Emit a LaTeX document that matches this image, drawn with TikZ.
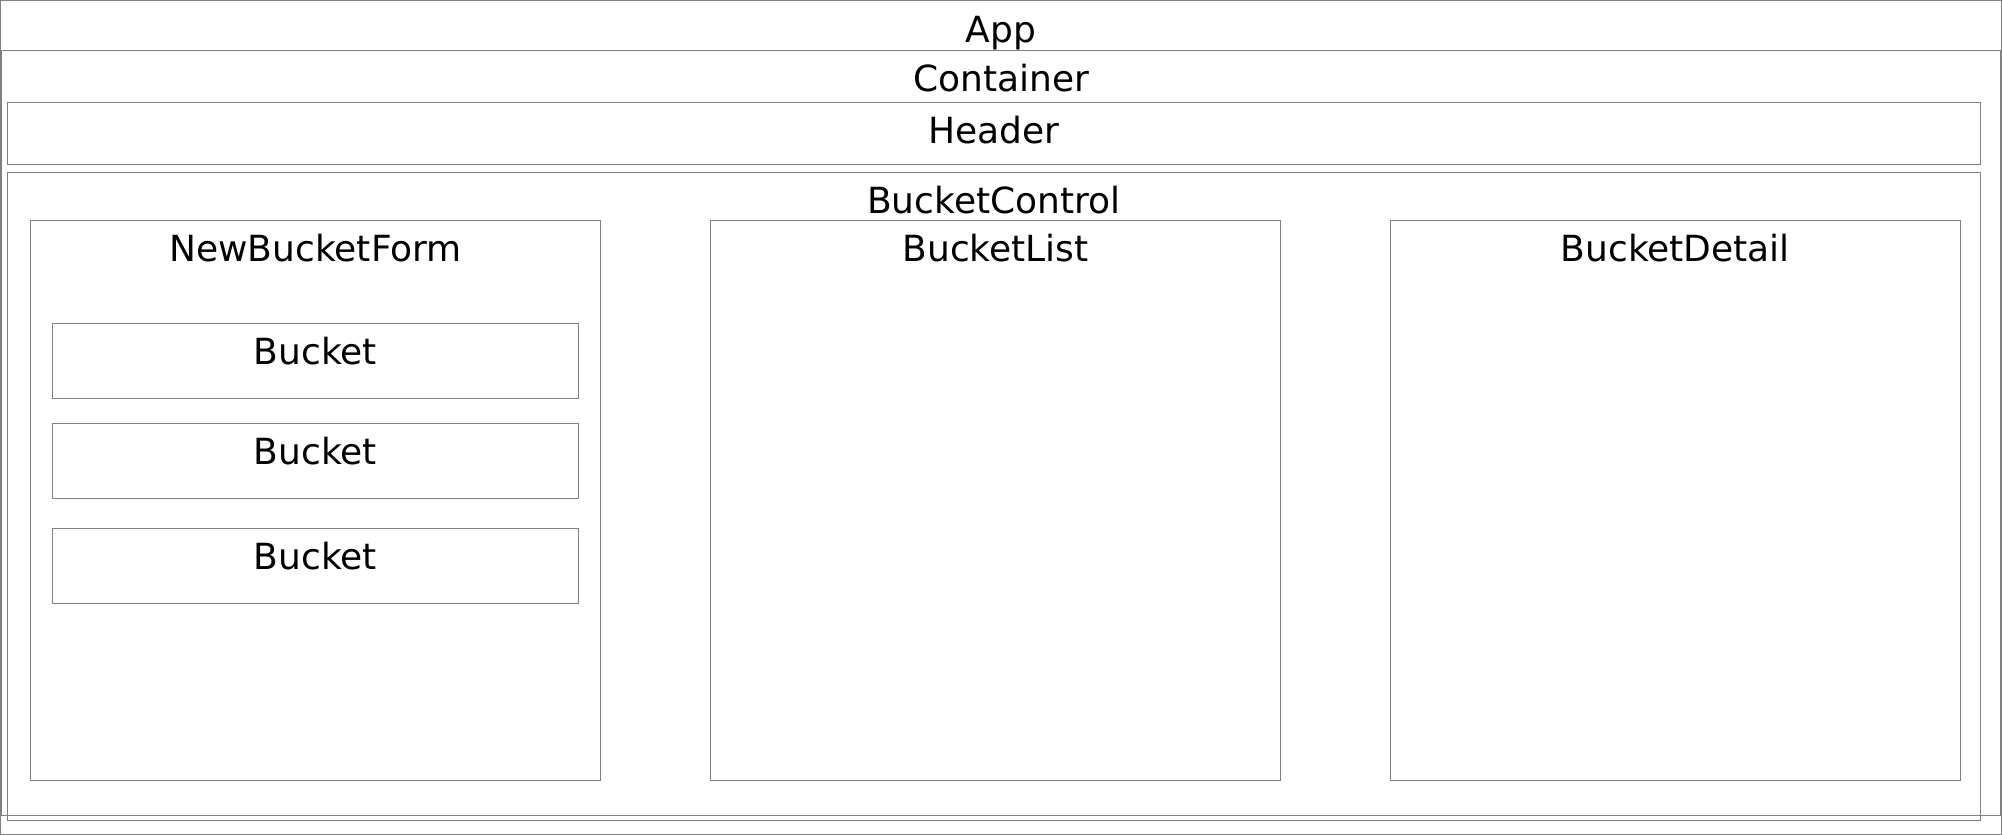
\documentclass[tikz,border=0pt]{standalone}
\usepackage{fontspec}
\setmainfont{DejaVu Sans}
\usetikzlibrary{fit,calc}
\definecolor{edge}{HTML}{808080}
\tikzset{
  box/.style={draw=edge, line width=0.5pt, inner sep=0pt, fill=none},
  lbl/.style={anchor=base, inner sep=0pt, font=\fontsize{18pt}{21pt}\selectfont, text=black}
}
\begin{document}
\begin{tikzpicture}[x=0.5pt,y=-0.5pt]
\useasboundingbox (0,0) rectangle (2002,835);
\fill[white] (0,0) rectangle (2002,835);
% App
\node[box, fit={(0.5,0.5)(2001.5,834.5)}] (app) {};
\node[lbl] (appT) at ($(app.north)+(0,42)$) {App};
% Container
\node[box, fit={(1.5,50)(2000.5,815)}] (container) {};
\node[lbl] (containerT) at ($(container.north)+(0,41.7)$) {Container};
% Header
\node[box, fit={(7.3,102.7)(1980.3,164)}] (header) {};
\node[lbl] (headerT) at ($(header.north)+(0,41)$) {Header};
% BucketControl
\node[box, fit={(7.3,172.3)(1980.3,820.3)}] (control) {};
\node[lbl] (controlT) at ($(control.north)+(0,42)$) {BucketControl};
% NewBucketForm
\node[box, fit={(30.7,220.7)(600.3,780.3)}] (form) {};
\node[lbl] (formT) at ($(form.north)+(0,41.6)$) {NewBucketForm};
% BucketList
\node[box, fit={(710.7,220.7)(1280.3,780.3)}] (list) {};
\node[lbl] (listT) at ($(list.north)+(0,41.6)$) {BucketList};
% BucketDetail
\node[box, fit={(1390.3,220.3)(1960.3,780.3)}] (detail) {};
\node[lbl] (detailT) at ($(detail.north)+(0,41.6)$) {BucketDetail};
% Buckets
\node[box, fit={(52.3,323.3)(578.7,398.3)}] (b1) {};
\node[lbl] (b1T) at ($(b1.north)+(0,41.7)$) {Bucket};
\node[box, fit={(52.3,423.7)(578.7,498.7)}] (b2) {};
\node[lbl] (b2T) at ($(b2.north)+(0,41.7)$) {Bucket};
\node[box, fit={(52.3,528)(578.7,603)}] (b3) {};
\node[lbl] (b3T) at ($(b3.north)+(0,41.7)$) {Bucket};
\end{tikzpicture}
\end{document}
